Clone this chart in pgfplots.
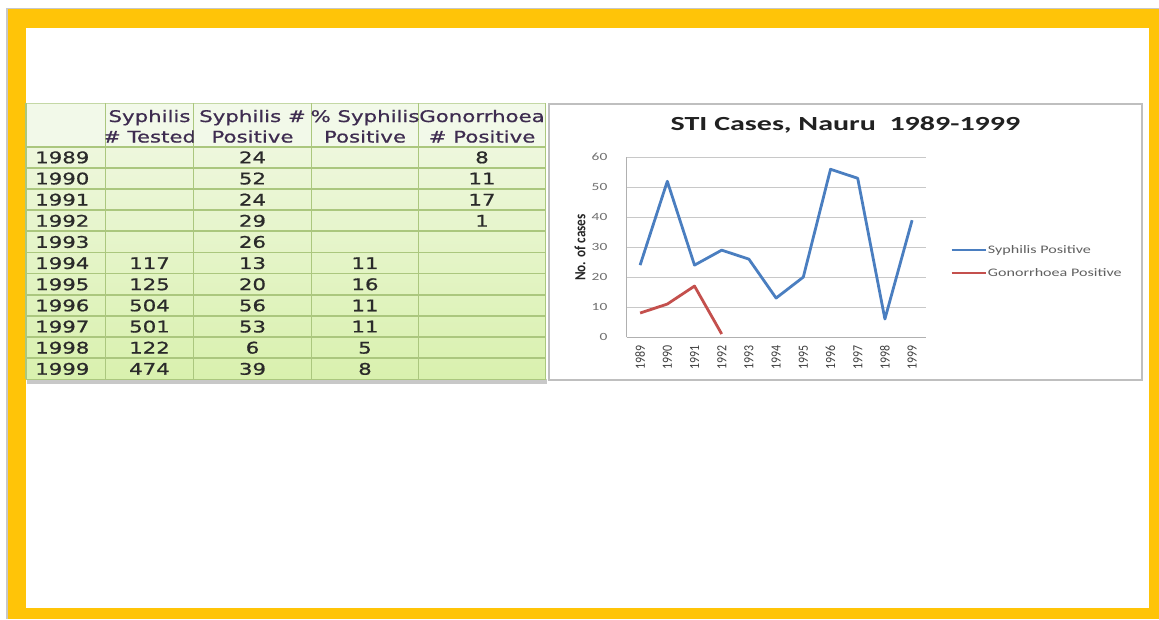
\documentclass[border=0pt]{standalone}
\usepackage{fontspec}
\usepackage{pgfplots}
\pgfplotsset{compat=1.18}
\usepackage{pgfplotstable}
\setmainfont{DejaVu Sans}
\newfontfamily\tabfont{DejaVu Sans}[FakeStretch=1.33,FakeBold=0.8]
\newfontfamily\chartfont{Carlito}[FakeStretch=1.4]
\newfontfamily\titlefont{Carlito}[FakeStretch=1.5]
\newfontfamily\rotfont{Carlito}[FakeStretch=0.85]
\definecolor{yel}{HTML}{FFC408}
\definecolor{gridc}{HTML}{C8C8C8}
\definecolor{axisc}{HTML}{B0B0B0}
\definecolor{sblue}{HTML}{4A7EC0}
\definecolor{gred}{HTML}{C4504D}
\definecolor{tabgrid}{HTML}{ABC77E}
\definecolor{tabtop}{HTML}{EEF7DD}
\definecolor{tabbot}{HTML}{D9F1AE}
\definecolor{tabhead}{HTML}{F2F9E9}
\definecolor{headtxt}{HTML}{3E2C50}
\definecolor{celltxt}{HTML}{2A2A2A}
\definecolor{ytc}{HTML}{707070}
\definecolor{xtc}{HTML}{404040}
\definecolor{legtc}{HTML}{606060}
\pgfplotstableread{
x s
0 24
1 52
2 24
3 29
4 26
5 13
6 20
7 56
8 53
9 6
10 39
}\syph
\pgfplotstableread{
x g
0 8
1 11
2 17
3 1
}\gono
\newcommand\hcell[5]{%
\begin{scope}\clip (#1,103.3) rectangle (#2,146.7);
\node[anchor=base] at (#3,122) {#4};
\node[anchor=base] at (#3,142.5) {#5};
\end{scope}}
\begin{document}
\begin{tikzpicture}
\begin{scope}[x=1pt,y=-1pt]
\path[use as bounding box] (0,0) rectangle (1159,619);
\fill[white] (0,0) rectangle (1159,619);
\fill[black!22] (5.5,7.5) rectangle (1159,619);
\fill[yel] (7.5,9) rectangle (1159,619);
\fill[white] (26,28) rectangle (1149,608);
% table
\fill[black!30,opacity=0.7] (27,379) rectangle (547,383.5);
\fill[tabhead] (26,103.3) rectangle (545.5,146.7);
\shade[top color=tabtop,bottom color=tabbot] (26,146.7) rectangle (545.5,379.3);
\foreach \k in {0,...,11} {\draw[tabgrid,line width=1.7pt] (26,{146.7+21.15*\k}) -- (545.5,{146.7+21.15*\k});}
\draw[tabgrid!70,line width=1.4pt] (26,103.3) -- (545.5,103.3);
\foreach \xx in {26,105.5,193.5,311.5,418.5,545.5} {\draw[tabgrid,line width=1.7pt] (\xx,103.3) -- (\xx,379.3);}
\begin{scope}[every node/.style={font=\tabfont\fontsize{16}{18}\selectfont,text=headtxt,inner sep=0pt}]
\hcell{105.5}{193.5}{149.5}{Syphilis}{\# Tested}
\hcell{193.5}{311.5}{252.5}{Syphilis \#}{Positive}
\hcell{311.5}{418.5}{365}{\% Syphilis}{Positive}
\hcell{418.5}{545.5}{482}{Gonorrhoea}{\# Positive}
\end{scope}
\begin{scope}[every node/.style={font=\tabfont\fontsize{16}{18}\selectfont,text=celltxt,inner sep=0pt}]
\foreach \v [count=\i from 0] in {1989,1990,1991,1992,1993,1994,1995,1996,1997,1998,1999}
  {\node[anchor=base west] at (35,{163.2+21.15*\i}) {\v};}
\foreach \v [count=\i from 5] in {117,125,504,501,122,474}
  {\node[anchor=base] at (149.5,{163.2+21.15*\i}) {\v};}
\foreach \v [count=\i from 0] in {24,52,24,29,26,13,20,56,53,6,39}
  {\node[anchor=base] at (252.5,{163.2+21.15*\i}) {\v};}
\foreach \v [count=\i from 5] in {11,16,11,11,5,8}
  {\node[anchor=base] at (365,{163.2+21.15*\i}) {\v};}
\foreach \v [count=\i from 0] in {8,11,17,1}
  {\node[anchor=base] at (482,{163.2+21.15*\i}) {\v};}
\end{scope}
% chart box
\draw[black!25,line width=1.2pt,fill=white] (549,104) rectangle (1142,380);
\end{scope}
\begin{axis}[
  at={(626.5pt,-337pt)}, anchor=south west,
  scale only axis, width=299.2pt, height=179.7pt,
  xmin=-0.5, xmax=10.5, ymin=0, ymax=60,
  xtick={0,...,10},
  xticklabels={1989,1990,1991,1992,1993,1994,1995,1996,1997,1998,1999},
  ytick={0,10,...,60},
  axis x line=bottom, axis y line=left,
  axis line style={-, draw=axisc, line width=1pt},
  ymajorgrids, major grid style={draw=gridc, line width=1pt},
  major tick length=0pt,
  /pgf/number format/assume math mode=true,
  yticklabel style={font=\chartfont\fontsize{11}{12}\selectfont, text=ytc, inner sep=0pt, anchor=east, xshift=-19pt},
  xticklabel style={font=\rotfont\fontsize{14}{14}\selectfont, text=xtc, inner sep=0pt, yshift=-8pt, rotate=90, anchor=east},
  ylabel={No. of cases},
  ylabel style={font=\rotfont\bfseries\fontsize{15.5}{16}\selectfont, text=black!85, at={(axis description cs:-0.155,0.498)}, anchor=center},
  title={STI Cases, Nauru~~1989-1999},
  title style={font=\titlefont\bfseries\fontsize{20}{22}\selectfont, text=black!87, at={(axis description cs:0.732,1.1185)}, anchor=base, inner sep=0pt},
  legend style={at={(1.081,0.42)}, anchor=west, draw=none, fill=none, inner sep=0pt,
    font=\chartfont\fontsize{11.5}{12}\selectfont, text=legtc, row sep=13pt, column sep=1pt,
    nodes={inner sep=0pt, text height=8pt, text depth=2pt}},
  legend cell align=left,
  legend image code/.code={\draw[#1] (0pt,0pt) -- (34pt,0pt);},
]
\addplot[sblue, line width=2.8pt, line join=round] table[x=x,y=s]{\syph};
\addlegendentry{Syphilis Positive}
\addplot[gred, line width=2.8pt, line join=round] table[x=x,y=g]{\gono};
\addlegendentry{Gonorrhoea Positive}
\end{axis}
\end{tikzpicture}
\end{document}
